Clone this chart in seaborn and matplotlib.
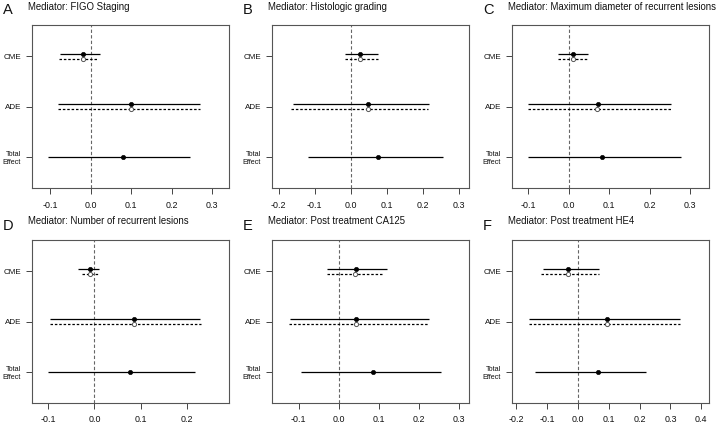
import numpy as np
import pandas as pd
import matplotlib
matplotlib.use("Agg")
import matplotlib.pyplot as plt
import seaborn as sns
from matplotlib.ticker import MultipleLocator

# data (effects and 95% CI per mediator)
letters = ["A", "B", "C", "D", "E", "F"]
mediators = ["FIGO Staging", "Histologic grading", "Maximum diameter of recurrent lesions",
             "Number of recurrent lesions", "Post treatment CA125", "Post treatment HE4"]
row_labels = ["CME", "ADE", "Total\nEffect"]

cme_t_est = [-0.020, 0.026, 0.011, -0.010, 0.042, -0.032]
cme_t_lo = [-0.075, -0.015, -0.026, -0.036, -0.029, -0.114]
cme_t_hi = [0.022, 0.076, 0.048, 0.010, 0.120, 0.067]
cme_c_est = [-0.020, 0.024, 0.010, -0.010, 0.041, -0.032]
cme_c_lo = [-0.079, -0.015, -0.026, -0.027, -0.029, -0.119]
cme_c_hi = [0.019, 0.074, 0.045, 0.010, 0.111, 0.067]

ade_t_est = [0.100, 0.048, 0.072, 0.086, 0.044, 0.094]
ade_t_lo = [-0.080, -0.161, -0.099, -0.097, -0.121, -0.159]
ade_t_hi = [0.269, 0.217, 0.253, 0.230, 0.226, 0.332]
ade_c_est = [0.100, 0.048, 0.071, 0.086, 0.044, 0.093]
ade_c_lo = [-0.080, -0.166, -0.099, -0.097, -0.125, -0.159]
ade_c_hi = [0.271, 0.213, 0.252, 0.232, 0.224, 0.330]

tot_est = [0.080, 0.074, 0.082, 0.077, 0.086, 0.065]
tot_lo = [-0.106, -0.118, -0.099, -0.100, -0.094, -0.141]
tot_hi = [0.246, 0.256, 0.276, 0.219, 0.257, 0.220]

x_limits = [(-0.1455, 0.342), (-0.2185, 0.327), (-0.1396, 0.346),
            (-0.1356, 0.292), (-0.167, 0.326), (-0.214, 0.425)]

sns.set_theme(style="white")
plt.rcParams["font.family"] = ["Liberation Sans", "DejaVu Sans"]

W, H = 720, 424
fig = plt.figure(figsize=(7.2, 4.24), dpi=100)

OFF = 0.05
for i in range(6):
    r, c = divmod(i, 3)
    left = 240 * c + 32
    top = 25 if r == 0 else 240
    ax = fig.add_axes([left / W, 1 - (top + 163) / H, 197 / W, 163 / H])

    df = pd.DataFrame({
        "y": [3 + OFF, 3 - OFF, 2 + OFF, 2 - OFF, 1],
        "est": [cme_t_est[i], cme_c_est[i], ade_t_est[i], ade_c_est[i], tot_est[i]],
        "lo": [cme_t_lo[i], cme_c_lo[i], ade_t_lo[i], ade_c_lo[i], tot_lo[i]],
        "hi": [cme_t_hi[i], cme_c_hi[i], ade_t_hi[i], ade_c_hi[i], tot_hi[i]],
        "grp": ["treated", "control", "treated", "control", "treated"],
    })
    solid = df[df["grp"] == "treated"]
    dashed = df[df["grp"] == "control"]

    ax.axvline(0, color="#666666", lw=0.8, ls=(0, (3, 2)), zorder=1)
    ax.hlines(solid["y"], solid["lo"], solid["hi"], color="black", lw=0.9, zorder=2)
    ax.hlines(dashed["y"], dashed["lo"], dashed["hi"], color="black", lw=0.9,
              linestyles=(0, (2, 1.5)), zorder=2)
    sns.scatterplot(data=solid, x="est", y="y", ax=ax, color="black", s=10,
                    edgecolor="black", linewidth=0.4, zorder=3, legend=False)
    sns.scatterplot(data=dashed, x="est", y="y", ax=ax, color="white", s=9,
                    edgecolor="#555555", linewidth=0.7, zorder=3, legend=False)

    ax.set_xlim(*x_limits[i])
    ax.set_ylim(0.38, 3.62)
    ax.xaxis.set_major_locator(MultipleLocator(0.1))
    ax.set_xticklabels([f"{v:.1f}" for v in ax.get_xticks()])
    ax.set_yticks([3, 2, 1])
    ax.set_yticklabels(row_labels, multialignment="right", linespacing=1.2)
    ax.get_yticklabels()[2].set_fontsize(5.2)
    ax.set_xlabel("")
    ax.set_ylabel("")
    ax.tick_params(axis="both", direction="out", length=4, width=0.7,
                   color="#444444", labelcolor="#111111", pad=4)
    ax.tick_params(axis="x", labelsize=6.4, pad=5)
    for lab in ax.get_yticklabels()[:2]:
        lab.set_fontsize(5.8)
    ax.tick_params(bottom=True, left=True)
    for s in ax.spines.values():
        s.set_color("#555555")
        s.set_linewidth(0.8)

    fig.text((left - 29) / W, 1 - (top - 10.5) / H, letters[i], fontsize=10.5,
             color="#111111", ha="left", va="baseline")
    fig.text((left - 4) / W, 1 - (top - 15.5) / H, "Mediator: " + mediators[i],
             fontsize=6.9, color="#111111", ha="left", va="baseline")

fig.savefig("out.png", dpi=100, facecolor="white")
